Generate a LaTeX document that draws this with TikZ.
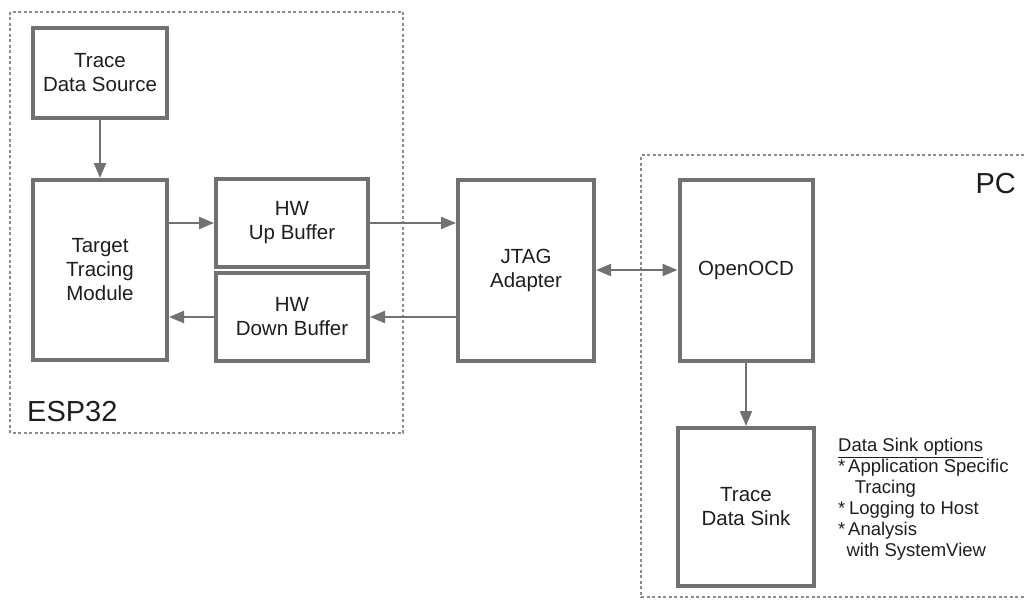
\documentclass[tikz,border=0pt]{standalone}
\usepackage{fontspec}
\setmainfont{Liberation Sans}
\usetikzlibrary{positioning,arrows.meta,calc}
\definecolor{boxgray}{HTML}{717171}
\definecolor{dashgray}{HTML}{8C8C8C}
\definecolor{txt}{HTML}{1E1E1E}
\tikzset{
  blk/.style={draw=boxgray,line width=4pt,align=center,text=txt,
              font=\fontsize{20.5}{24}\selectfont,inner sep=0pt},
  sig/.style={-{Triangle[length=15pt,width=12pt]},draw=boxgray,line width=2pt},
  bisig/.style={{Triangle[length=15pt,width=12pt]}-{Triangle[length=15pt,width=12pt]},
                draw=boxgray,line width=2pt},
  grp/.style={draw=dashgray,line width=1.6pt,dash pattern=on 3pt off 2.5pt},
  grplabel/.style={text=txt,font=\fontsize{29}{32}\selectfont,inner sep=0pt},
}
\begin{document}
\begin{tikzpicture}[x=1pt,y=-1pt]
  \useasboundingbox (0,0) rectangle (1024,607);
  % --- group frames ---
  \draw[grp] (10,12) rectangle (403,433);
  \draw[grp] (1024,155) -- (641,155) -- (641,597) -- (1024,597);
  \node[grplabel,anchor=base west] (esp) at (27,421) {ESP32};
  \node[grplabel,anchor=base east] (pc) at (1016,193) {PC};
  % --- ESP32 side ---
  \node[blk,minimum width=134pt,minimum height=90pt] (src) at (100,73)
       {Trace\\Data Source};
  \node[blk,minimum width=134pt,minimum height=180pt] (ttm) at (100,270)
       {Target\\Tracing\\Module};
  \node[blk,minimum width=152pt,minimum height=88pt] (upb) at (292,223)
       {HW\\Up Buffer};
  \node[blk,minimum width=152pt,minimum height=88pt] (dnb) at (292,317)
       {HW\\Down Buffer};
  % --- adapter and host ---
  \node[blk,minimum width=136pt,minimum height=181pt] (jtag) at (526,270)
       {JTAG\\Adapter};
  \node[blk,minimum width=133pt,minimum height=181pt] (ocd) at (746,270)
       {OpenOCD};
  \node[blk,minimum width=136pt,minimum height=158pt] (sink) at (746,507)
       {Trace\\Data Sink};
  \node[anchor=north west,align=left,text=txt,inner sep=0pt,
        font=\fontsize{18.5}{21}\selectfont] (opts) at (838,438)
       {\underline{Data Sink options}\\
        *\hspace{0.15em}Application Specific\\
        \hspace{0.9em}Tracing\\
        *\hspace{0.2em}Logging to Host\\
        *\hspace{0.15em}Analysis\\
        \hspace{0.45em}with SystemView};
  % --- signal flow ---
  \draw[sig] (src) -- (ttm);
  \draw[sig] (ttm.east |- upb.west) -- (upb.west);
  \draw[sig] (upb.east) -- (upb.east -| jtag.west);
  \draw[sig] (jtag.west |- dnb.east) -- (dnb.east);
  \draw[sig] (dnb.west) -- (dnb.west -| ttm.east);
  \draw[bisig] (jtag) -- (ocd);
  \draw[sig] (ocd) -- (sink);
\end{tikzpicture}
\end{document}
